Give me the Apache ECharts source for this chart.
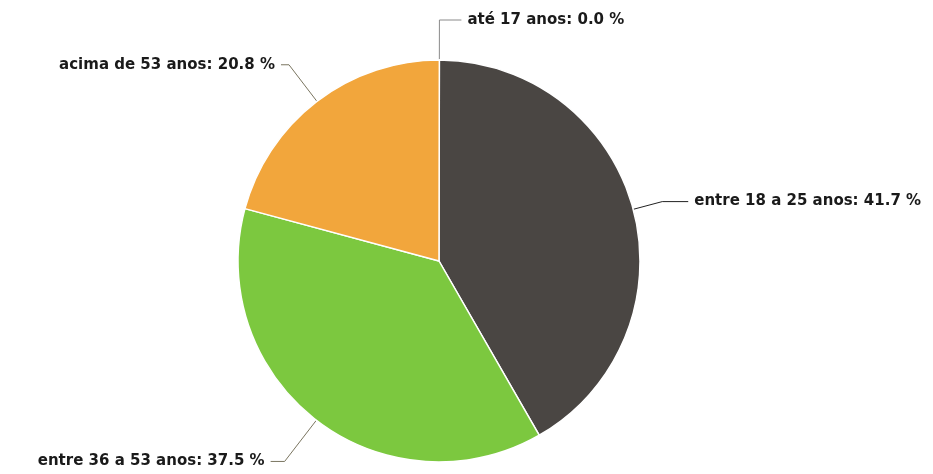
<!DOCTYPE html>
<html>
<head>
<meta charset="utf-8">
<script src="https://cdn.jsdelivr.net/npm/echarts@6/dist/echarts.min.js"></script>
<style>html,body{margin:0;padding:0;background:#fff;}#c{width:933px;height:474px;}</style>
</head>
<body>
<div id="c"></div>
<script>
var categories = ['até 17 anos', 'entre 18 a 25 anos', 'entre 36 a 53 anos', 'acima de 53 anos'];
var values = [0, 10, 9, 5];
var colors = ['#5b8fd6', '#4a4643', '#7cc83f', '#f2a63c'];
var lineLengths = [[40, 22], [30, 26], [52, 14], [46, 8]];
var lineColors = ['#8a8a8a', '#222222', '#7a7560', '#7a7560'];

var chart = echarts.init(document.getElementById('c'));
chart.setOption({
  backgroundColor: '#ffffff',
  animation: false,
  series: [{
    type: 'pie',
    center: [439, 261],
    radius: 201,
    startAngle: 89.9,
    clockwise: true,
    avoidLabelOverlap: false,
    data: categories.map(function (name, i) {
      return {
        name: name,
        value: values[i],
        itemStyle: { color: colors[i] },
        labelLine: { length: lineLengths[i][0], length2: lineLengths[i][1], lineStyle: { color: lineColors[i] } }
      };
    }),
    itemStyle: { borderColor: '#ffffff', borderWidth: 1.5 },
    label: {
      show: true,
      formatter: function (p) { return p.name + ': ' + p.percent.toFixed(1) + ' %'; },
      fontFamily: 'DejaVu Sans',
      fontWeight: 'bold',
      fontSize: 15,
      color: '#1a1a1a',
      distanceToLabelLine: 6
    },
    labelLine: {
      show: true,
      lineStyle: { width: 1 }
    }
  }]
});
</script>
</body>
</html>
